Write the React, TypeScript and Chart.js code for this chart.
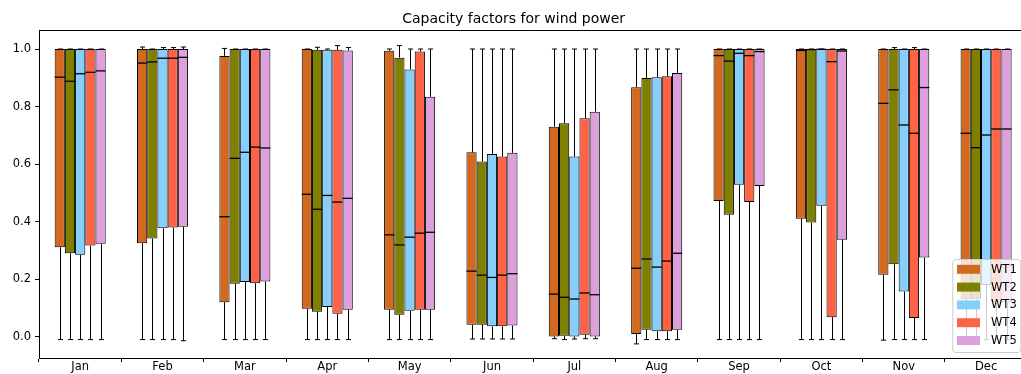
import React, { useEffect, useRef } from "react";
import { Chart, registerables } from "chart.js";

Chart.register(...registerables);

const MONTHS = ["Jan", "Feb", "Mar", "Apr", "May", "Jun", "Jul", "Aug", "Sep", "Oct", "Nov", "Dec"];
const SERIES = ["WT1", "WT2", "WT3", "WT4", "WT5"];
const COLORS = ["#D2691E", "#808000", "#87CEFA", "#FF6347", "#DDA0DD"];
const TITLE = "Capacity factors for wind power";
const Y_TICKS = [0, 0.2, 0.4, 0.6, 0.8, 1.0];

// one row per series (WT1..WT5), one column per month
const WHISKER_LOW = [
  [-0.01, -0.01, -0.01, -0.01, -0.01, -0.008, -0.007, -0.025, -0.01, -0.01, -0.012, -0.01],
  [-0.01, -0.01, -0.01, -0.01, -0.01, -0.008, -0.01, -0.01, -0.01, -0.01, -0.01, -0.01],
  [-0.01, -0.01, -0.01, -0.01, -0.01, -0.008, -0.008, -0.01, -0.01, -0.01, -0.01, -0.01],
  [-0.01, -0.01, -0.01, -0.01, -0.01, -0.008, -0.007, -0.01, -0.01, -0.01, -0.01, -0.01],
  [-0.01, -0.014, -0.01, -0.01, -0.01, -0.008, -0.007, -0.01, -0.01, -0.01, -0.01, -0.01],
];
const Q1 = [
  [0.311, 0.325, 0.12, 0.097, 0.094, 0.042, 0.001, 0.009, 0.472, 0.41, 0.215, 0.13],
  [0.29, 0.341, 0.184, 0.087, 0.076, 0.042, 0.003, 0.024, 0.424, 0.397, 0.252, 0.13],
  [0.285, 0.377, 0.19, 0.103, 0.09, 0.036, 0.001, 0.019, 0.528, 0.455, 0.157, 0.18],
  [0.317, 0.38, 0.186, 0.08, 0.094, 0.036, 0.007, 0.019, 0.468, 0.068, 0.065, 0.12],
  [0.323, 0.382, 0.192, 0.094, 0.094, 0.039, 0.001, 0.024, 0.524, 0.337, 0.275, 0.12],
];
const MEDIAN = [
  [0.902, 0.951, 0.417, 0.495, 0.354, 0.228, 0.148, 0.238, 0.977, 0.995, 0.811, 0.707],
  [0.888, 0.955, 0.62, 0.443, 0.319, 0.214, 0.137, 0.27, 0.958, 0.998, 0.858, 0.657],
  [0.914, 0.968, 0.641, 0.491, 0.346, 0.206, 0.131, 0.242, 0.985, 0.999, 0.736, 0.701],
  [0.919, 0.968, 0.659, 0.468, 0.36, 0.214, 0.152, 0.263, 0.977, 0.956, 0.707, 0.722],
  [0.924, 0.971, 0.656, 0.481, 0.363, 0.219, 0.146, 0.29, 0.991, 0.993, 0.866, 0.722],
];
const Q3 = [
  [1.0, 1.0, 0.976, 1.0, 0.994, 0.641, 0.73, 0.867, 1.0, 1.0, 1.0, 1.0],
  [1.0, 1.0, 1.0, 0.997, 0.97, 0.609, 0.742, 0.899, 1.0, 1.0, 1.0, 1.0],
  [1.0, 1.0, 1.0, 0.997, 0.929, 0.635, 0.626, 0.902, 1.0, 1.0, 1.0, 1.0],
  [1.0, 1.0, 1.0, 0.997, 0.991, 0.626, 0.759, 0.905, 1.0, 1.0, 1.0, 1.0],
  [1.0, 1.0, 1.0, 0.995, 0.834, 0.639, 0.782, 0.917, 1.0, 1.0, 1.0, 1.0],
];
const WHISKER_HIGH = [
  [1.0, 1.007, 1.002, 1.0, 1.0, 1.0, 1.0, 1.0, 1.0, 1.0, 1.0, 1.0],
  [1.0, 1.0, 1.0, 1.006, 1.012, 1.0, 1.0, 1.0, 1.0, 1.0, 1.005, 1.0],
  [1.0, 1.005, 1.0, 1.0, 1.0, 1.0, 1.0, 1.0, 1.0, 1.0, 1.0, 1.0],
  [1.0, 1.005, 1.0, 1.012, 1.0, 1.0, 1.0, 1.0, 1.0, 1.0, 1.005, 1.0],
  [1.0, 1.007, 1.0, 1.005, 1.0, 1.0, 1.0, 1.0, 1.0, 1.0, 1.0, 1.0],
];

const FONT = "'DejaVu Sans', sans-serif";
const TICK_SIZE = 11.5;

export default function App() {
  const ref = useRef<HTMLCanvasElement>(null);

  useEffect(() => {
    const canvas = ref.current;
    if (!canvas) return;

    const whiskerPlugin = {
      id: "boxWhiskers",
      afterDatasetsDraw(chart: any) {
        const ctx = chart.ctx;
        const y = chart.scales.y;
        ctx.save();
        ctx.strokeStyle = "#000";
        ctx.lineWidth = 1;
        SERIES.forEach((_, i) => {
          const meta = chart.getDatasetMeta(i);
          meta.data.forEach((el: any, j: number) => {
            const cx = Math.round(el.x) + 0.5;
            const w = el.width;
            const pq1 = y.getPixelForValue(Q1[i][j]);
            const pq3 = y.getPixelForValue(Q3[i][j]);
            const plo = y.getPixelForValue(WHISKER_LOW[i][j]);
            const phi = y.getPixelForValue(WHISKER_HIGH[i][j]);
            const pm = y.getPixelForValue(MEDIAN[i][j]);
            ctx.beginPath();
            ctx.moveTo(cx, pq1);
            ctx.lineTo(cx, plo);
            ctx.moveTo(cx, pq3);
            ctx.lineTo(cx, phi);
            ctx.moveTo(cx - w / 4, plo);
            ctx.lineTo(cx + w / 4, plo);
            ctx.moveTo(cx - w / 4, phi);
            ctx.lineTo(cx + w / 4, phi);
            ctx.stroke();
            ctx.beginPath();
            ctx.lineWidth = 1.3;
            ctx.moveTo(el.x - w / 2, pm);
            ctx.lineTo(el.x + w / 2, pm);
            ctx.stroke();
            ctx.lineWidth = 1;
          });
        });
        // top and right spines
        const a = chart.chartArea;
        ctx.beginPath();
        ctx.moveTo(a.left, Math.round(a.top) + 0.5);
        ctx.lineTo(a.right, Math.round(a.top) + 0.5);
        ctx.moveTo(Math.round(a.right) + 0.5, a.top);
        ctx.lineTo(Math.round(a.right) + 0.5, a.bottom);
        ctx.stroke();
        ctx.restore();
      },
    };

    const legendPlugin = {
      id: "boxLegend",
      afterDraw(chart: any) {
        const ctx = chart.ctx;
        const a = chart.chartArea;
        const left = a.right - 75;
        const right = a.right - 7;
        const top = a.bottom - 99;
        const bottom = a.bottom - 6;
        ctx.save();
        ctx.beginPath();
        if (ctx.roundRect) ctx.roundRect(left + 0.5, top + 0.5, right - left, bottom - top, 3);
        else ctx.rect(left + 0.5, top + 0.5, right - left, bottom - top);
        ctx.fillStyle = "rgba(255,255,255,0.8)";
        ctx.fill();
        ctx.strokeStyle = "#cccccc";
        ctx.lineWidth = 1;
        ctx.stroke();
        ctx.font = `${TICK_SIZE}px ${FONT}`;
        ctx.textBaseline = "middle";
        ctx.textAlign = "left";
        SERIES.forEach((name, i) => {
          const cy = top + 10.3 + 17.8 * i;
          ctx.fillStyle = COLORS[i];
          ctx.fillRect(left + 4.7, cy - 4.5, 23, 9);
          ctx.fillStyle = "#000";
          ctx.fillText(name, left + 38.7, cy + 0.5);
        });
        ctx.restore();
      },
    };

    const chart = new Chart(canvas, {
      type: "bar",
      data: {
        labels: MONTHS,
        datasets: SERIES.map((name, i) => ({
          label: name,
          data: MONTHS.map((_, j) => [Q1[i][j], Q3[i][j]]),
          backgroundColor: COLORS[i],
          borderColor: "#000",
          borderWidth: 1,
          borderSkipped: false,
          categoryPercentage: 0.62,
          barPercentage: 1.0,
        })) as any,
      },
      options: {
        animation: false,
        responsive: false,
        devicePixelRatio: 1,
        events: [],
        layout: { padding: { left: 0, right: 37.7, top: 0, bottom: 0 } },
        plugins: {
          legend: { display: false },
          tooltip: { enabled: false },
          title: {
            display: true,
            text: TITLE,
            color: "#000",
            font: { family: FONT, size: 14, weight: "normal" as any },
            padding: { top: 10.5, bottom: 3 },
          },
        },
        scales: {
          x: {
            offset: true,
            grid: {
              offset: true,
              drawOnChartArea: false,
              drawTicks: true,
              tickLength: 4,
              tickColor: "#000",
            },
            border: { display: true, color: "#000", width: 1 },
            ticks: {
              color: "#000",
              font: { family: FONT, size: TICK_SIZE },
              padding: -1.5,
              maxRotation: 0,
              autoSkip: false,
            },
            afterFit(scale: any) {
              scale.height = 16;
            },
          },
          y: {
            min: -0.074,
            max: 1.065,
            grid: {
              drawOnChartArea: false,
              drawTicks: true,
              tickLength: 4,
              tickColor: "#000",
            },
            border: { display: true, color: "#000", width: 1 },
            ticks: {
              color: "#000",
              font: { family: FONT, size: TICK_SIZE },
              padding: 4,
              callback: (v: any) => Number(v).toFixed(1),
            },
            afterBuildTicks(scale: any) {
              scale.ticks = Y_TICKS.map((v) => ({ value: v }));
            },
            afterFit(scale: any) {
              scale.width = 39;
            },
          },
        },
      },
      plugins: [whiskerPlugin, legendPlugin],
    });

    return () => chart.destroy();
  }, []);

  return (
    <div
      style={{
        position: "absolute",
        left: 0,
        top: 0,
        width: 1021,
        height: 374,
        overflow: "hidden",
        background: "#fff",
      }}
    >
      <canvas ref={ref} width={1065} height={374} style={{ display: "block", width: 1065, height: 374 }} />
    </div>
  );
}
